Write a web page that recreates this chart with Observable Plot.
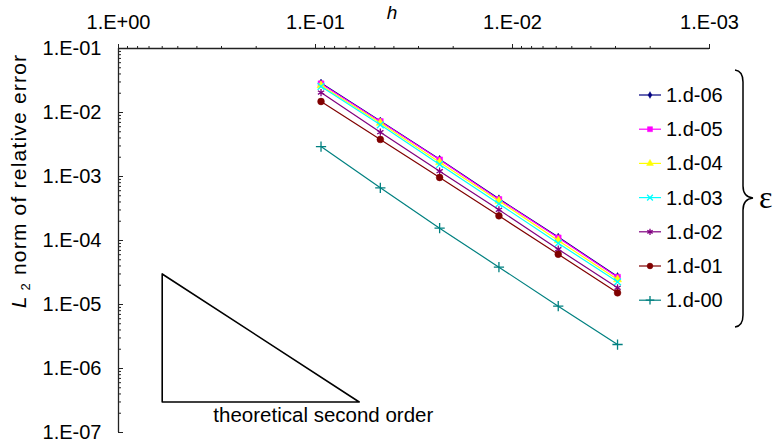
<!DOCTYPE html>
<html><head><meta charset="utf-8">
<script src="https://cdn.jsdelivr.net/npm/d3@7"></script>
<script src="https://cdn.jsdelivr.net/npm/@observablehq/plot@0.6"></script>
<style>body{margin:0;background:#fff}</style>
</head><body><div id="chart"></div>
<script>
// ---- data ----
const h = [0.09375, 0.046875, 0.0234375, 0.01171875, 0.005859375, 0.0029296875];
const epsLabels = ["1.d-06","1.d-05","1.d-04","1.d-03","1.d-02","1.d-01","1.d-00"];
const err06 = [2.89e-2, 7.36e-3, 1.86e-3, 4.49e-4, 1.13e-4, 2.74e-5];
const err05 = [2.81e-2, 7.23e-3, 1.82e-3, 4.38e-4, 1.10e-4, 2.67e-5];
const err04 = [2.64e-2, 6.85e-3, 1.67e-3, 4.14e-4, 1.00e-4, 2.46e-5];
const err03 = [2.55e-2, 6.43e-3, 1.54e-3, 3.74e-4, 9.08e-5, 2.26e-5];
const err02 = [2.05e-2, 4.92e-3, 1.21e-3, 3.02e-4, 7.31e-5, 1.82e-5];
const err01 = [1.485e-2, 3.79e-3, 9.64e-4, 2.43e-4, 6.1e-5, 1.52e-5];
const err00 = [2.94e-3, 6.65e-4, 1.56e-4, 3.83e-5, 9.4e-6, 2.37e-6];
const seriesErr = [err06, err05, err04, err03, err02, err01, err00];
const colors = ["#000080","#FF00FF","#FFFF00","#00FFFF","#800080","#800000","#008080"];
const symbols = ["diamond","square","triangle","times","asterisk","circle","plus"];
const xMajor = [1, 0.1, 0.01, 0.001];
const yMajor = [1e-1, 1e-2, 1e-3, 1e-4, 1e-5, 1e-6, 1e-7];
// theoretical second order triangle
const triH = [0.6, 0.6, 0.06, 0.6];
const triE = [3e-5, 3e-7, 3e-7, 3e-5];
const triLabel = "theoretical second order";

// ---- derived ----
const mult = [2,3,4,5,6,7,8,9];
const xMinor = [1, 0.1, 0.01].flatMap(d => mult.map(m => d*m/10));
const yMinor = [1e-2,1e-3,1e-4,1e-5,1e-6,1e-7].flatMap(d => mult.map(m => d*m));
const rows = [];
seriesErr.forEach((arr, s) => arr.forEach((v, i) => rows.push({s, eps: epsLabels[s], h: h[i], err: v})));
const tri = triH.map((x, i) => ({h: x, err: triE[i]}));
const fmt = d => { const e = Math.round(Math.log10(d)); return "1.E" + (e < 0 ? "-" : "+") + String(Math.abs(e)).padStart(2, "0"); };

const W = 773, H = 444, ML = 118, MR = 64, MT = 48, MB = 12;
const plotW = W - ML - MR;
const axisColor = "#222";
const font = "Liberation Sans, Arial, sans-serif";
const symR = {diamond: 2.4, square: 3.3, triangle: 3.0, times: 3.2, asterisk: 3.4, circle: 3.4, plus: 3.4};
const filledSet = ["diamond","square","triangle","circle"];

const marks = [
  Plot.axisX({anchor: "top", ticks: xMajor, tickFormat: fmt, tickSize: 5, tickPadding: 15, label: null, fontSize: 20, stroke: axisColor}),
  Plot.axisX({anchor: "top", ticks: xMinor, tickFormat: () => "", tickSize: 3, label: null, stroke: axisColor}),
  Plot.axisY({anchor: "left", ticks: yMajor, tickFormat: fmt, tickSize: 0, tickPadding: 17, label: null, fontSize: 20}),
  Plot.tickY(yMajor, {y: d => d, insetRight: plotW - 5, stroke: axisColor}),
  Plot.tickY(yMinor, {y: d => d, insetRight: plotW - 3, stroke: axisColor}),
  Plot.ruleY([1e-1], {stroke: axisColor, strokeWidth: 1.3}),
  Plot.ruleX([1], {stroke: axisColor, strokeWidth: 1.3}),
  Plot.line(tri, {x: "h", y: "err", stroke: "#000", strokeWidth: 1.6}),
  Plot.text([triLabel], {x: [0.33], y: [1.86e-7], text: d => d, textAnchor: "start", fontSize: 20.5, fill: "#000"})
];
seriesErr.forEach((arr, s) => {
  const data = rows.filter(r => r.s === s);
  const filled = filledSet.includes(symbols[s]);
  marks.push(Plot.line(data, {x: "h", y: "err", stroke: colors[s], strokeWidth: 1.2}));
  marks.push(Plot.dot(data, {x: "h", y: "err", symbol: () => symbols[s], r: symR[symbols[s]],
    fill: filled ? colors[s] : "none", stroke: colors[s], strokeWidth: filled ? 0.5 : 1.3}));
});

const svg = Plot.plot({
  width: W, height: H, marginLeft: ML, marginRight: MR, marginTop: MT, marginBottom: MB,
  style: {fontFamily: font, fontSize: "20px", color: "#000", background: "#fff"},
  x: {type: "log", domain: [1, 0.001]},
  y: {type: "log", domain: [1e-7, 1e-1]},
  symbol: {type: "identity"},
  marks
});
document.getElementById("chart").appendChild(svg);

// ---- decorations: axis titles, legend, brace ----
const g = d3.select(svg).append("g").attr("font-family", font).attr("text-anchor", "start");
g.append("text").attr("x", 392).attr("y", 19).attr("font-style", "italic").attr("font-size", 19)
  .attr("text-anchor", "middle").text("h");
const yt = g.append("text").attr("transform", "translate(26,181) rotate(-90)").attr("text-anchor", "middle")
  .attr("font-size", 21).attr("letter-spacing", 1.2);
yt.append("tspan").attr("font-style", "italic").text("L");
yt.append("tspan").attr("font-size", 13).attr("dy", 4).text(" 2");
yt.append("tspan").attr("dy", -4).text(" norm of relative error");

const sym = d3.symbol();
const d3sym = {diamond: d3.symbolDiamond, square: d3.symbolSquare, triangle: d3.symbolTriangle,
  times: d3.symbolTimes, asterisk: d3.symbolAsterisk, circle: d3.symbolCircle, plus: d3.symbolPlus};
epsLabels.forEach((lab, i) => {
  const y = 95 + i * 34.2;
  const filled = filledSet.includes(symbols[i]);
  const r = symR[symbols[i]] * 0.85;
  g.append("line").attr("x1", 639).attr("x2", 661).attr("y1", y).attr("y2", y).attr("stroke", colors[i]).attr("stroke-width", 1.2);
  g.append("path").attr("d", sym.type(d3sym[symbols[i]]).size(r * r * Math.PI)()).attr("transform", `translate(650,${y})`)
    .attr("fill", filled ? colors[i] : "none").attr("stroke", colors[i]).attr("stroke-width", filled ? 0.5 : 1.3);
  g.append("text").attr("x", 666).attr("y", y + 7).attr("font-size", 20).text(lab);
});
g.append("path").attr("d", "M735,70 Q743,71 743,82 L743,186 Q743,197 753,198 Q743,199 743,210 L743,315 Q743,326 735,327")
  .attr("fill", "none").attr("stroke", "#000").attr("stroke-width", 1.5);
g.append("text").attr("x", 759).attr("y", 208).attr("font-family", "Liberation Serif, Times New Roman, serif")
  .attr("font-size", 32).text("ε");
</script></body></html>
